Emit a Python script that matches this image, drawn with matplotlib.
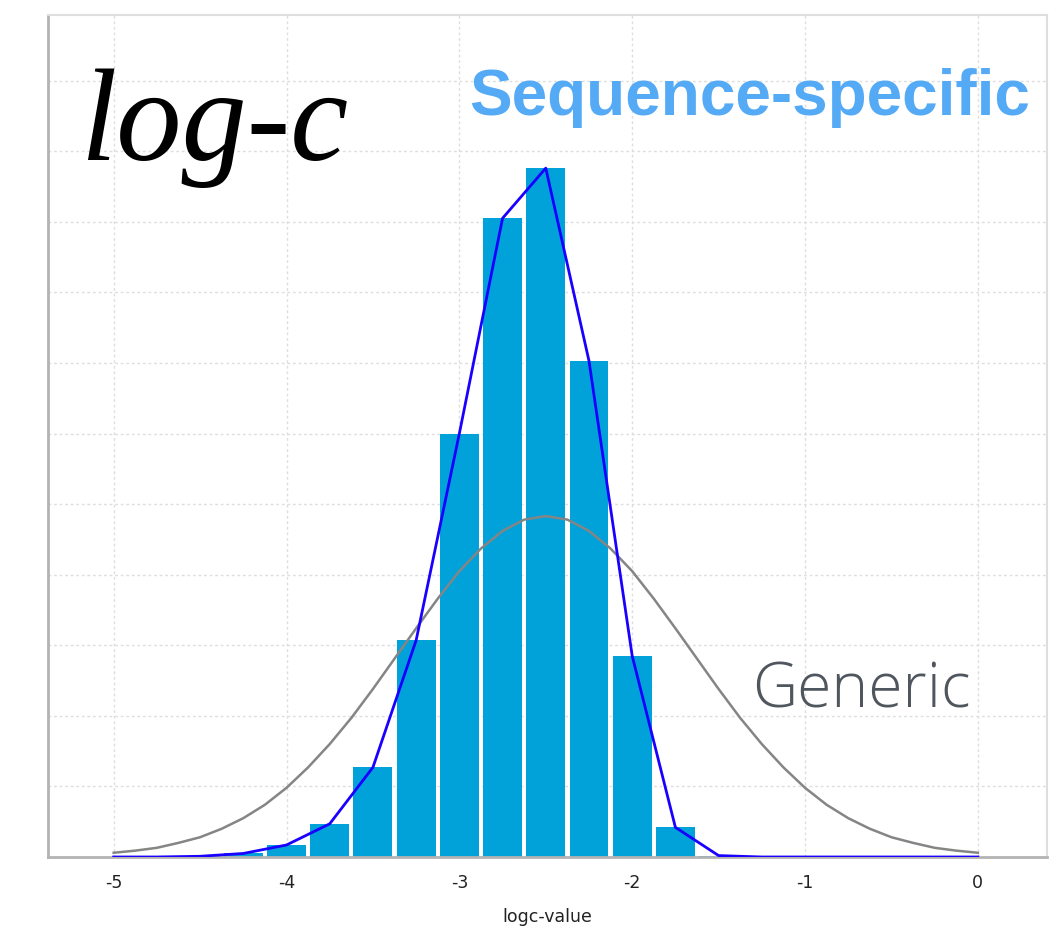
import numpy as np
import matplotlib
matplotlib.use('Agg')
import matplotlib.pyplot as plt

# histogram bins (centre of each 0.25 wide bin) and heights in grid units
bin_centers = [-5.0, -4.75, -4.5, -4.25, -4.0, -3.75, -3.5, -3.25, -3.0, -2.75, -2.5,
               -2.25, -2.0, -1.75, -1.5, -1.25, -1.0, -0.75, -0.5, -0.25, 0.0]
seq_counts = [0.0, 0.0, 0.01, 0.05, 0.17, 0.47, 1.27, 3.07, 6.0, 9.05, 9.76,
              7.03, 2.85, 0.42, 0.02, 0.0, 0.0, 0.0, 0.0, 0.0, 0.0]

# generic curve, every 0.125
generic_x = [-5.0, -4.875, -4.75, -4.625, -4.5, -4.375, -4.25, -4.125, -4.0, -3.875,
             -3.75, -3.625, -3.5, -3.375, -3.25, -3.125, -3.0, -2.875, -2.75, -2.625,
             -2.5, -2.375, -2.25, -2.125, -2.0, -1.875, -1.75, -1.625, -1.5, -1.375,
             -1.25, -1.125, -1.0, -0.875, -0.75, -0.625, -0.5, -0.375, -0.25, -0.125, 0.0]
generic_y = [0.06, 0.09, 0.13, 0.20, 0.28, 0.40, 0.55, 0.74, 0.98, 1.27,
             1.60, 1.97, 2.38, 2.81, 3.24, 3.66, 4.05, 4.37, 4.62, 4.78,
             4.83, 4.78, 4.62, 4.37, 4.05, 3.66, 3.24, 2.81, 2.38, 1.97,
             1.60, 1.27, 0.98, 0.74, 0.55, 0.40, 0.28, 0.20, 0.13, 0.09, 0.06]

xticks = [-5, -4, -3, -2, -1, 0]
xtick_labels = ['-5', '-4', '-3', '-2', '-1', '0']

fig = plt.figure(figsize=(10.55, 9.31), dpi=100)
ax = fig.add_axes([0.0455, 0.0795, 0.9469, 0.9044])

ax.bar(bin_centers, seq_counts, width=0.225, color='#00a2d9', zorder=2)
ax.plot(generic_x, generic_y, color='#858585', lw=1.8, zorder=3)
ax.plot(bin_centers, seq_counts, color='#1a00ff', lw=2.0, zorder=4)

ax.set_xlim(-5.38, 0.40)
ax.set_ylim(0, 11.93)
ax.set_xticks(xticks)
ax.set_xticklabels(xtick_labels, fontsize=12.5, color='#222222')
ax.set_yticks(range(1, 12))
ax.tick_params(axis='y', length=0, labelleft=False)
ax.tick_params(axis='x', length=0, pad=12)
ax.grid(True, color='#dedede', lw=1, ls=(0, (2, 2)), zorder=0)
ax.set_axisbelow(True)
ax.set_xlabel('logc-value', fontsize=12.5, color='#222222', labelpad=12)

for s in ['left', 'bottom']:
    ax.spines[s].set_color('#b3b3b3')
    ax.spines[s].set_linewidth(2)
for s in ['top', 'right']:
    ax.spines[s].set_color('#dedede')
    ax.spines[s].set_linewidth(1.5)

fig.text(0.0758, 0.8281, 'log-c', family='Liberation Serif', style='italic',
         fontsize=94, color='black', va='baseline', ha='left')
fig.text(0.9763, 0.8765, 'Sequence-specific', family='Liberation Sans', weight='bold',
         fontsize=46, color='#55aaf6', va='baseline', ha='right')
fig.text(0.7128, 0.2406, 'Generic', family='Open Sans', weight='light',
         fontsize=45, color='#50565e', va='baseline', ha='left')

fig.savefig('out.png', dpi=100)
